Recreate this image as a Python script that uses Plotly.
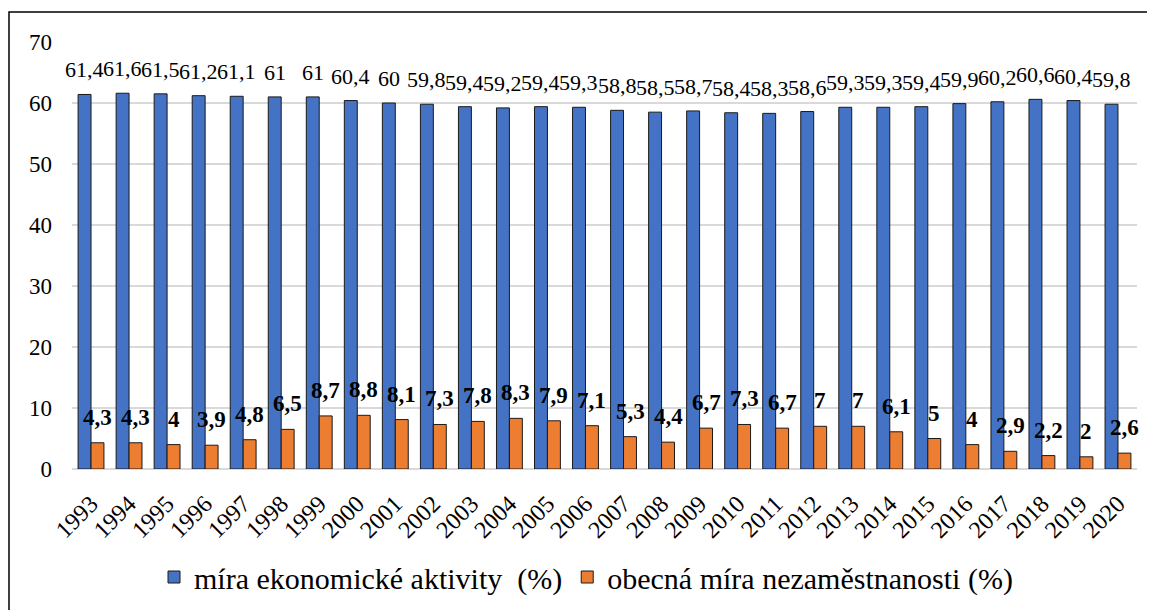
import plotly.graph_objects as go

years = [str(y) for y in range(1993, 2021)]
activity = [61.4, 61.6, 61.5, 61.2, 61.1, 61, 61, 60.4, 60, 59.8, 59.4, 59.2, 59.4, 59.3,
            58.8, 58.5, 58.7, 58.4, 58.3, 58.6, 59.3, 59.3, 59.4, 59.9, 60.2, 60.6, 60.4, 59.8]
unemployment = [4.3, 4.3, 4, 3.9, 4.8, 6.5, 8.7, 8.8, 8.1, 7.3, 7.8, 8.3, 7.9, 7.1,
                5.3, 4.4, 6.7, 7.3, 6.7, 7, 7, 6.1, 5, 4, 2.9, 2.2, 2, 2.6]
name_activity = "míra ekonomické aktivity\u00a0 (%)"
name_unemp = "obecná míra nezaměstnanosti (%)"
y_ticks = [0, 10, 20, 30, 40, 50, 60, 70]

FONT = "Liberation Serif"
BLUE = "#4472C4"
ORANGE = "#ED7D31"
OUTLINE = "#1a1a1a"


def fmt(v):
    s = ("%g" % v)
    return s.replace(".", ",")


fig = go.Figure()
fig.add_trace(go.Bar(x=years, y=activity, name=name_activity,
                     marker=dict(color=BLUE, line=dict(color=OUTLINE, width=1))))
fig.add_trace(go.Bar(x=years, y=unemployment, name=name_unemp,
                     marker=dict(color=ORANGE, line=dict(color=OUTLINE, width=1))))

annotations = []
for i, (a, u) in enumerate(zip(activity, unemployment)):
    annotations.append(dict(x=i, y=a, xref="x", yref="y", text=fmt(a), showarrow=False,
                            xanchor="center", yanchor="bottom", xshift=-6.5, yshift=10,
                            font=dict(family=FONT, size=22, color="black")))
    annotations.append(dict(x=i, y=u, xref="x", yref="y", text="<b>" + fmt(u) + "</b>",
                            showarrow=False, xanchor="center", yanchor="bottom",
                            xshift=6.5, yshift=11,
                            font=dict(family=FONT, size=23, color="black")))

# page body adds an 8px offset, so figure coordinates = reference - 8
OFF = 8
W, H = 1155, 610
L, T = 72 - OFF, 42 - OFF
PR, PB = 1137 - OFF, 469 - OFF
R, B = W - PR, H - PB
pw, ph = PR - L, PB - T


def px_x(p):
    return (p - OFF - L) / pw


def px_y(p):
    return (PB - (p - OFF)) / ph


fig.update_layout(
    width=W, height=H,
    margin=dict(l=L, r=R, t=T, b=B, autoexpand=False),
    paper_bgcolor="white", plot_bgcolor="white",
    barmode="group", bargap=0.32, bargroupgap=0,
    font=dict(family=FONT, color="black"),
    annotations=annotations,
    showlegend=True,
    legend=dict(orientation="h", x=px_x(586), xanchor="center", y=px_y(577), yanchor="middle",
                font=dict(family=FONT, size=30, color="black"), traceorder="normal",
                itemwidth=30),
    shapes=[dict(type="rect", xref="paper", yref="paper",
                 x0=px_x(9), x1=px_x(1175), y0=px_y(630), y1=px_y(12),
                 line=dict(color="black", width=1.5), fillcolor="rgba(0,0,0,0)", layer="below")],
    xaxis=dict(type="category", range=[-0.5, len(years) - 0.5], tickangle=-45,
               showgrid=False, showline=False, zeroline=False,
               ticks="", tickfont=dict(family=FONT, size=24, color="black"),
               ticklabelstandoff=15),
    yaxis=dict(range=[0, 70], tickvals=y_ticks, showgrid=True, gridcolor="#d9d9d9", gridwidth=1.5,
               zeroline=True, zerolinecolor="#d9d9d9", zerolinewidth=1.5, showline=False,
               ticks="", tickfont=dict(family=FONT, size=23, color="black"),
               ticklabelstandoff=19),
)

fig.write_html("out.html")
